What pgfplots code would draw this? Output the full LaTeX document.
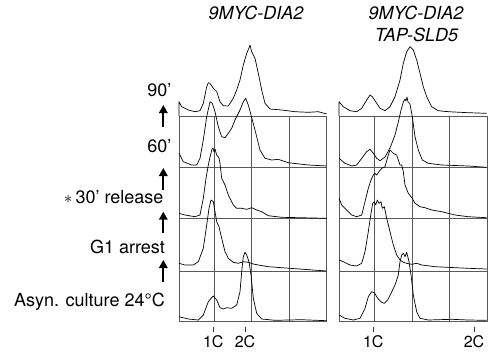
\documentclass[border=0pt]{standalone}
\usepackage{fontspec}
\setmainfont{TeX Gyre Heros}
\usepackage{pgfplots}
\pgfplotsset{compat=1.18}
\usetikzlibrary{arrows.meta}
\begin{document}
\begin{tikzpicture}
\useasboundingbox (0,0) rectangle (494pt,-356pt);
\pgfplotsset{panel/.style={x=1pt,y=1pt,y dir=reverse, anchor=north west, clip=false,
  xticklabels={}, yticklabels={}, major tick length=0pt, grid=major,
  grid style={black!65,line width=0.7pt}, axis line style={black!65,line width=0.8pt},
  ymin=116, ymax=321, ytick={167.7,218.3,271}},
  curve/.style={black, line width=0.7pt, line join=round}}
% ---------------- left panel ----------------
\begin{axis}[panel, at={(179pt,-116pt)}, xmin=179, xmax=326.7, xtick={214.3,251.7,289}]
% 90'
\addplot[curve] coordinates {(179,116)(179,101.7)(181.7,106.7)(188.3,110)(195,111.7)(200,110.7)(203.3,103.3)(206.7,86.7)(208.3,82.7)(210,83.3)(213.3,88.3)(216.7,91.7)(220,101.7)(223.3,105.7)(228.3,106)(233.3,98.3)(236.7,90)(240,80)(243.3,65)(246.7,53.3)(249,48)(250,45)(251,49)(251.7,51.7)(255,58.3)(258.3,73.3)(261.7,90)(265,103.3)(270,109)(281.7,110)(295,111.7)(308.3,112.3)(318.3,111.7)(326.7,114)};
% 60'
\addplot[curve] coordinates {(179,153.3)(183.3,161.7)(191.7,165)(196.7,165)(200,158.3)(203.3,140)(206.7,116.7)(210,101.7)(212.3,103.3)(215,111.7)(218.3,126.7)(221.7,136.7)(225,137.7)(228.3,133.3)(231.7,128.3)(235,120)(240,110)(243.3,101.7)(245.7,98.3)(248.3,105)(251,115)(255,130)(260,150)(265,158.3)(271.7,160)(278.3,159.3)(288.3,162.7)(308.3,165)(326.7,166)};
% 30'
\addplot[curve] coordinates {(179,213.3)(185,215)(195,216.7)(200,215)(203.3,198.3)(206,178.3)(208.3,165)(210,157)(211,153.3)(212,149)(213,148)(214,152)(215,149)(216.7,155)(218.3,156.7)(219,158)(220,163.3)(221.7,178.3)(225,185)(228.3,195)(233.3,205)(236.7,208.3)(241.7,208.3)(246.7,209.3)(251.7,207.7)(256.7,210)(261.7,211.7)(268.3,215.7)(281.7,217.3)(326.7,218.3)};
% G1
\addplot[curve] coordinates {(179,263.3)(185,265)(193.3,265)(198.3,261.7)(203.3,248.3)(206.7,225)(209,208.3)(211,200)(213.3,201.7)(215,211.7)(216.7,221.7)(219,226.7)(221.7,238.3)(225,251.7)(228.3,258.3)(233.3,262.3)(238.3,263.3)(243.3,261.7)(248.3,262.3)(253.3,264)(258.3,265)(268.3,266.7)(326.7,271)};
% Asyn
\addplot[curve] coordinates {(179,316.7)(188.3,319)(198.3,320)(203.3,315)(208.3,301.7)(211,298.3)(213.3,296)(216.7,300)(220,307.7)(223.3,309)(226.7,307.7)(231.7,308.3)(236.7,305)(240,291.7)(241.7,271.7)(243.3,256.7)(245,252.3)(246.7,255)(249,261.7)(251,275)(253.3,298.3)(256.7,313.3)(261.7,319)(275,320.3)(301.7,319.7)(326.7,320.7)};
\end{axis}
% ---------------- right panel ----------------
\begin{axis}[panel, at={(339pt,-116pt)}, xmin=339, xmax=487.7, xtick={374.3,412.3,449.3}]
% 90'
\addplot[curve] coordinates {(339,116)(339,101.7)(343.3,106.7)(350,110.7)(356.7,111.7)(361.7,108.3)(366.7,100)(370,95)(372.3,96.7)(375.7,101.7)(380,108.3)(385,110.7)(390,106.7)(395,96.7)(400,80)(403.3,63.3)(406.7,51.7)(410,46.7)(413.3,50)(416.7,60)(420,73.3)(423.3,86.7)(426.7,96.7)(431.7,106.7)(438.3,110.7)(448.3,111.7)(468.3,112.7)(486.7,113.3)};
% 60'
\addplot[curve] coordinates {(339,158.3)(345,163.3)(351.7,166)(356.7,165)(361.7,158.3)(366.7,151.7)(370,149.3)(373.3,153.3)(376.7,158.3)(380,160.7)(385,157)(390,148)(395,135)(398.3,122)(401,110)(403.3,102)(405,99)(406,101)(407,97)(408,102)(410,104)(412.3,116.7)(415,136.7)(418.3,150)(422.3,160)(428.3,163.3)(441.7,165)(468.3,166)(486.7,167.3)};
% 30'
\addplot[curve] coordinates {(339,198.3)(341.7,205)(346.7,210)(351.7,215)(356.7,216.7)(361.7,215)(365,201.7)(368.3,188.3)(371,180)(373.3,175)(375,173.3)(376.7,175)(379,171.7)(381.7,168.3)(385,166.7)(388.3,155)(390,150)(393.3,153.3)(396.7,155)(400,165)(401.7,165)(403.3,171.7)(405,185)(408.3,193.3)(412.3,198.3)(415,203.3)(420,206.7)(425,207.7)(431.7,210)(441.7,211.7)(455,215)(468.3,216.7)(486.7,217.7)};
% G1
\addplot[curve] coordinates {(339,260)(343.3,261.7)(350,265)(356.7,266)(361.7,263.3)(365,251.7)(368.3,231.7)(371,213.3)(372.7,203.3)(374.3,201.7)(375.7,205)(377.3,200)(379,203.3)(381,201.7)(382.3,208.3)(384.3,206.7)(386.7,218.3)(390,231.7)(393.3,245)(396.7,255)(400,260)(403.3,262.3)(406.7,263.3)(411.7,264.3)(416.7,263.3)(421.7,265)(435,266.7)(468.3,268.3)(486.7,269)};
% Asyn
\addplot[curve] coordinates {(339,315)(345,318.3)(353.3,320)(360,318.3)(365,308.3)(368.3,296.7)(371.7,291.7)(374.3,292.7)(377.7,298.3)(381.7,302.3)(384.3,303.3)(387.7,300)(391,293.3)(395,285)(398.3,275)(400,261.7)(401.7,255)(403.3,253.3)(405,256.7)(406.7,252.3)(409,261.7)(411,275)(413.3,295)(416.7,311.7)(420,318.3)(428.3,320)(451.7,319.3)(468.3,320)(486.7,320.3)};
\end{axis}
% ---------------- titles and labels ----------------
\begin{scope}[every node/.style={font=\fontsize{18}{20}\selectfont}]
\node[anchor=base] at (256pt,-19.3pt) {\itshape 9MYC-DIA2};
\node[anchor=base] at (416pt,-19.3pt) {\itshape 9MYC-DIA2};
\node[anchor=base] at (416.5pt,-41.6pt) {\itshape TAP-SLD5};
\node[anchor=base east] at (175pt,-96pt) {90’};
\node[anchor=base east] at (175pt,-152.7pt) {60’};
\node[anchor=base east] at (167pt,-203.3pt) {$\ast$\,30’ release};
\node[anchor=base east] at (168.3pt,-253.3pt) {G1 arrest};
\node[anchor=base east] at (168.3pt,-306.7pt) {Asyn. culture 24°C};
\end{scope}
% arrows
\foreach \yb/\yt in {126.7/105,190/168,233/211.7,281.7/260}
  \draw[line width=1.8pt,-{Triangle[width=8.5pt,length=8pt]}] (163.3pt,-\yb pt) -- (163.3pt,-\yt pt);
% 1C / 2C ticks
\foreach \xx/\lab in {213.3/1C,245/2C,373.3/1C,474/2C}{
  \draw[black!80, line width=0.8pt] (\xx pt,-326.7pt) -- (\xx pt,-332.3pt);
  \node[anchor=base, font=\fontsize{16}{18}\selectfont] at (\xx pt,-347pt) {\lab};
}
\end{tikzpicture}
\end{document}
